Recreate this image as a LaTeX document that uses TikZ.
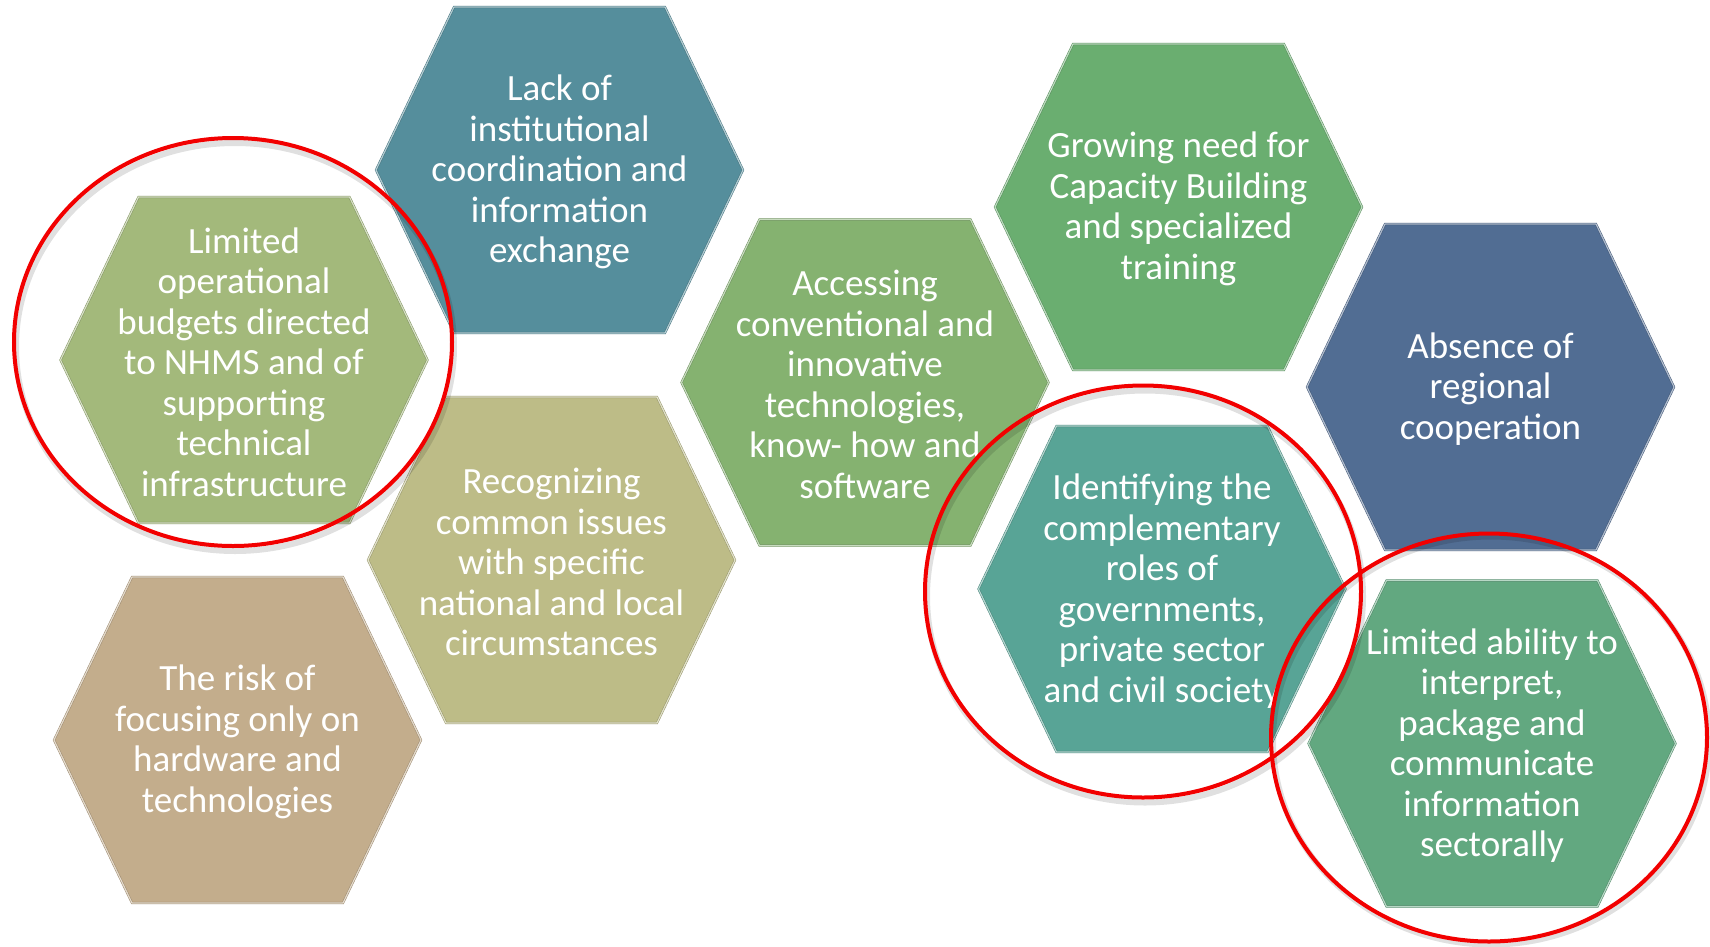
\documentclass[tikz,border=0pt]{standalone}
\usepackage{fontspec}
\setmainfont{Carlito}
\definecolor{cLack}{HTML}{558E9C}
\definecolor{cBudget}{HTML}{A3B97B}
\definecolor{cRecog}{HTML}{BDBC87}
\definecolor{cRisk}{HTML}{C3AD8C}
\definecolor{cAccess}{HTML}{85B270}
\definecolor{cGrow}{HTML}{6AAE70}
\definecolor{cAbsence}{HTML}{516D93}
\definecolor{cIdent}{HTML}{58A496}
\definecolor{cAbility}{HTML}{62A880}
\definecolor{ringred}{HTML}{F20000}
\tikzset{
  hexborder/.style={draw=#1!80!black, line width=0.5pt, double=white!55!#1, double distance=1.2pt, fill=#1},
  hextext/.style={text=white, align=center, inner sep=0pt, yshift=-2pt, font=\fontsize{37}{40.5}\selectfont},
  ringshadow/.style={draw=black, opacity=0.12, line width=6},
  ring/.style={draw=ringred, line width=4},
}
\newcommand\hexcell[5]{%
  \begin{scope}[shift={(#2,#3)}]
    \draw[hexborder=#4] (-183.5,0) -- (-105.5,-163) -- (105.5,-163) -- (183.5,0) -- (105.5,163) -- (-105.5,163) -- cycle;
    \node[hextext] (#1) at (0,0) {#5};
  \end{scope}}
\begin{document}
\begin{tikzpicture}[x=1pt,y=-1pt]
\useasboundingbox (0,0) rectangle (1710,946);
\fill[white] (0,0) rectangle (1710,946);
\hexcell{lack}{559.5}{170}{cLack}{Lack of\\institutional\\coordination and\\information\\exchange}
\hexcell{budget}{244}{360}{cBudget}{Limited\\operational\\budgets directed\\to NHMS and of\\supporting\\technical\\infrastructure}
\hexcell{recog}{551.5}{560}{cRecog}{Recognizing\\common issues\\with specific\\national and local\\circumstances}
\hexcell{risk}{237.5}{740}{cRisk}{The risk of\\focusing only on\\hardware and\\technologies}
\hexcell{access}{865}{382.5}{cAccess}{Accessing\\conventional and\\innovative\\technologies,\\know- how and\\software}
\hexcell{grow}{1178.5}{207}{cGrow}{Growing need for\\Capacity Building\\and specialized\\training}
\hexcell{absence}{1490.5}{387}{cAbsence}{Absence of\\regional\\cooperation}
\hexcell{ident}{1162}{589}{cIdent}{Identifying the\\complementary\\roles of\\governments,\\private sector\\and civil society}
\hexcell{ability}{1492}{743.5}{cAbility}{Limited ability to\\interpret,\\package and\\communicate\\information\\sectorally}
% red rings
\draw[ringshadow] (235,347) ellipse [x radius=219, y radius=204];
\draw[ringshadow] (1145,596.5) ellipse [x radius=218, y radius=206];
\draw[ringshadow] (1491,740.5) ellipse [x radius=218, y radius=204];
\draw[ring] (233,342) ellipse [x radius=219, y radius=204];
\draw[ring] (1143,591.5) ellipse [x radius=218, y radius=206];
\draw[ring] (1489,737.5) ellipse [x radius=218, y radius=204];
\end{tikzpicture}
\end{document}
